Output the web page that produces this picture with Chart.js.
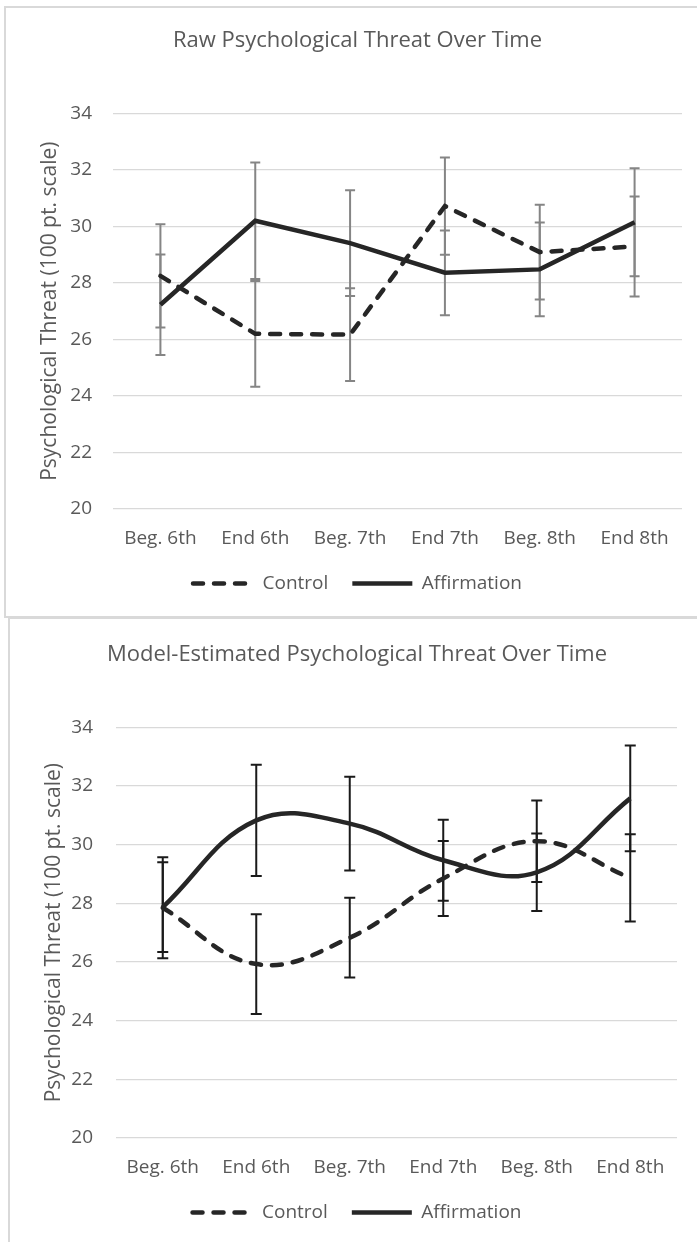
<!DOCTYPE html>
<html lang="en">
<head>
<meta charset="UTF-8">
<title>Psychological Threat Over Time</title>
<script src="https://cdn.jsdelivr.net/npm/chart.js"></script>
<style>
  html, body { margin: 0; padding: 0; background: #fff; }
  body { width: 697px; height: 1242px; position: relative; overflow: hidden; }
  .panel { position: absolute; box-sizing: border-box; background: #fff; }
  #panel-raw { left: 4px; top: 6px; width: 710px; height: 612px; border: 2px solid #d9d9d9; }
  #panel-model { left: 8px; top: 617px; width: 710px; height: 640px; border-left: 2px solid #d9d9d9; border-top: 2px solid #d9d9d9; }
  .box { position: absolute; left: 0; top: 0; }
</style>
</head>
<body>

<div id="panel-raw" class="panel">
  <div class="box" style="width:691px;height:608px;"><canvas id="rawChart"></canvas></div>
</div>
<div id="panel-model" class="panel">
  <div class="box" style="width:687px;height:623px;"><canvas id="modelChart"></canvas></div>
</div>

<script>
// --- DATA ---
const timepoints = ['Beg. 6th', 'End 6th', 'Beg. 7th', 'End 7th', 'Beg. 8th', 'End 8th'];
const yTicks = [20, 22, 24, 26, 28, 30, 32, 34];

// raw means and error bar half-widths
const rawControl      = [28.25, 26.20, 26.17, 30.72, 29.09, 29.29];
const rawControlErr   = [1.83, 1.87, 1.64, 1.72, 1.68, 1.77];
const rawAffirm       = [27.23, 30.20, 29.41, 28.36, 28.48, 30.15];
const rawAffirmErr    = [1.78, 2.06, 1.87, 1.50, 1.66, 1.91];

// model-estimated means and error bar half-widths
const modelControl    = [27.85, 25.93, 26.83, 28.85, 30.12, 28.87];
const modelControlErr = [1.72, 1.70, 1.36, 1.28, 1.39, 1.49];
const modelAffirm     = [27.87, 30.83, 30.72, 29.47, 29.06, 31.58];
const modelAffirmErr  = [1.53, 1.90, 1.60, 1.38, 1.32, 1.80];

const FONT = "'Open Sans', 'Noto Sans', sans-serif";
const TEXT = '#595959';
const LINE = '#262626';

// error bars drawn under the lines
const errorBars = {
  id: 'errorBars',
  beforeDatasetsDraw(chart, args, opts) {
    const ctx = chart.ctx;
    const y = chart.scales.y;
    ctx.save();
    ctx.strokeStyle = opts.color;
    ctx.lineWidth = opts.width;
    chart.data.datasets.forEach((ds, di) => {
      const meta = chart.getDatasetMeta(di);
      meta.data.forEach((pt, i) => {
        const hi = y.getPixelForValue(ds.data[i] + ds.errors[i]);
        const lo = y.getPixelForValue(ds.data[i] - ds.errors[i]);
        ctx.beginPath();
        ctx.moveTo(pt.x, hi); ctx.lineTo(pt.x, lo);
        ctx.moveTo(pt.x - opts.cap, hi); ctx.lineTo(pt.x + opts.cap, hi);
        ctx.moveTo(pt.x - opts.cap, lo); ctx.lineTo(pt.x + opts.cap, lo);
        ctx.stroke();
      });
    });
    ctx.restore();
  }
};

function makeChart(id, title, control, controlErr, affirm, affirmErr, cfg) {
  const ctx = document.getElementById(id).getContext('2d');
  return new Chart(ctx, {
    type: 'line',
    data: {
      labels: timepoints,
      datasets: [
        {
          label: 'Control', data: control, errors: controlErr,
          borderColor: LINE, backgroundColor: LINE, borderWidth: 4.5,
          borderDash: [10, 11], borderCapStyle: 'round',
          pointRadius: 0, pointStyle: 'line', tension: cfg.tension
        },
        {
          label: 'Affirmation', data: affirm, errors: affirmErr,
          borderColor: LINE, backgroundColor: LINE, borderWidth: 4.5,
          pointRadius: 0, pointStyle: 'line', tension: cfg.tension
        }
      ]
    },
    options: {
      responsive: true,
      maintainAspectRatio: false,
      animation: false,
      layout: { padding: cfg.padding },
      scales: {
        x: {
          offset: true,
          grid: { display: false },
          border: { display: false },
          ticks: { color: TEXT, font: { family: FONT, size: 19 }, padding: 10, maxRotation: 0 },
          afterFit: s => { s.height = 41; }
        },
        y: {
          min: 20, max: 34,
          afterBuildTicks: s => { s.ticks = yTicks.map(v => ({ value: v })); },
          grid: { color: '#d9d9d9', lineWidth: 1.3, drawTicks: false },
          border: { display: false },
          ticks: { color: TEXT, font: { family: FONT, size: 19 }, padding: cfg.tickPad },
          title: { display: true, text: 'Psychological Threat (100 pt. scale)', color: TEXT, font: { family: FONT, size: 21 } },
          afterFit: s => { s.width = cfg.yWidth; }
        }
      },
      plugins: {
        title: {
          display: true, text: title, color: TEXT,
          font: { family: FONT, size: 22, weight: 'normal' },
          padding: cfg.titlePad
        },
        legend: {
          position: 'bottom',
          labels: {
            color: TEXT, font: { family: FONT, size: 19 },
            usePointStyle: true, pointStyle: 'line', pointStyleWidth: 60,
            padding: 24,
            generateLabels: chart => {
              const items = Chart.defaults.plugins.legend.labels.generateLabels(chart);
              items.forEach(it => {
                const ds = chart.data.datasets[it.datasetIndex];
                it.lineDash = ds.borderDash || [];
                it.lineCap = ds.borderCapStyle || 'butt';
                it.lineWidth = ds.borderWidth;
                it.strokeStyle = ds.borderColor;
              });
              return items;
            }
          }
        },
        tooltip: { enabled: false },
        errorBars: cfg.err
      }
    },
    plugins: [errorBars]
  });
}

makeChart('rawChart', 'Raw Psychological Threat Over Time',
  rawControl, rawControlErr, rawAffirm, rawAffirmErr, {
    tension: 0,
    padding: { left: 27, right: 15, top: 0, bottom: 13 },
    yWidth: 80, tickPad: 21,
    titlePad: { top: 20, bottom: 59 },
    err: { color: '#858585', width: 2, cap: 5 }
  });

makeChart('modelChart', 'Model-Estimated Psychological Threat Over Time',
  modelControl, modelControlErr, modelAffirm, modelAffirmErr, {
    tension: 0.4,
    padding: { left: 27, right: 20, top: 0, bottom: 10 },
    yWidth: 79, tickPad: 23,
    titlePad: { top: 23, bottom: 59 },
    err: { color: '#1a1a1a', width: 2, cap: 5.5 }
  });
</script>
</body>
</html>
